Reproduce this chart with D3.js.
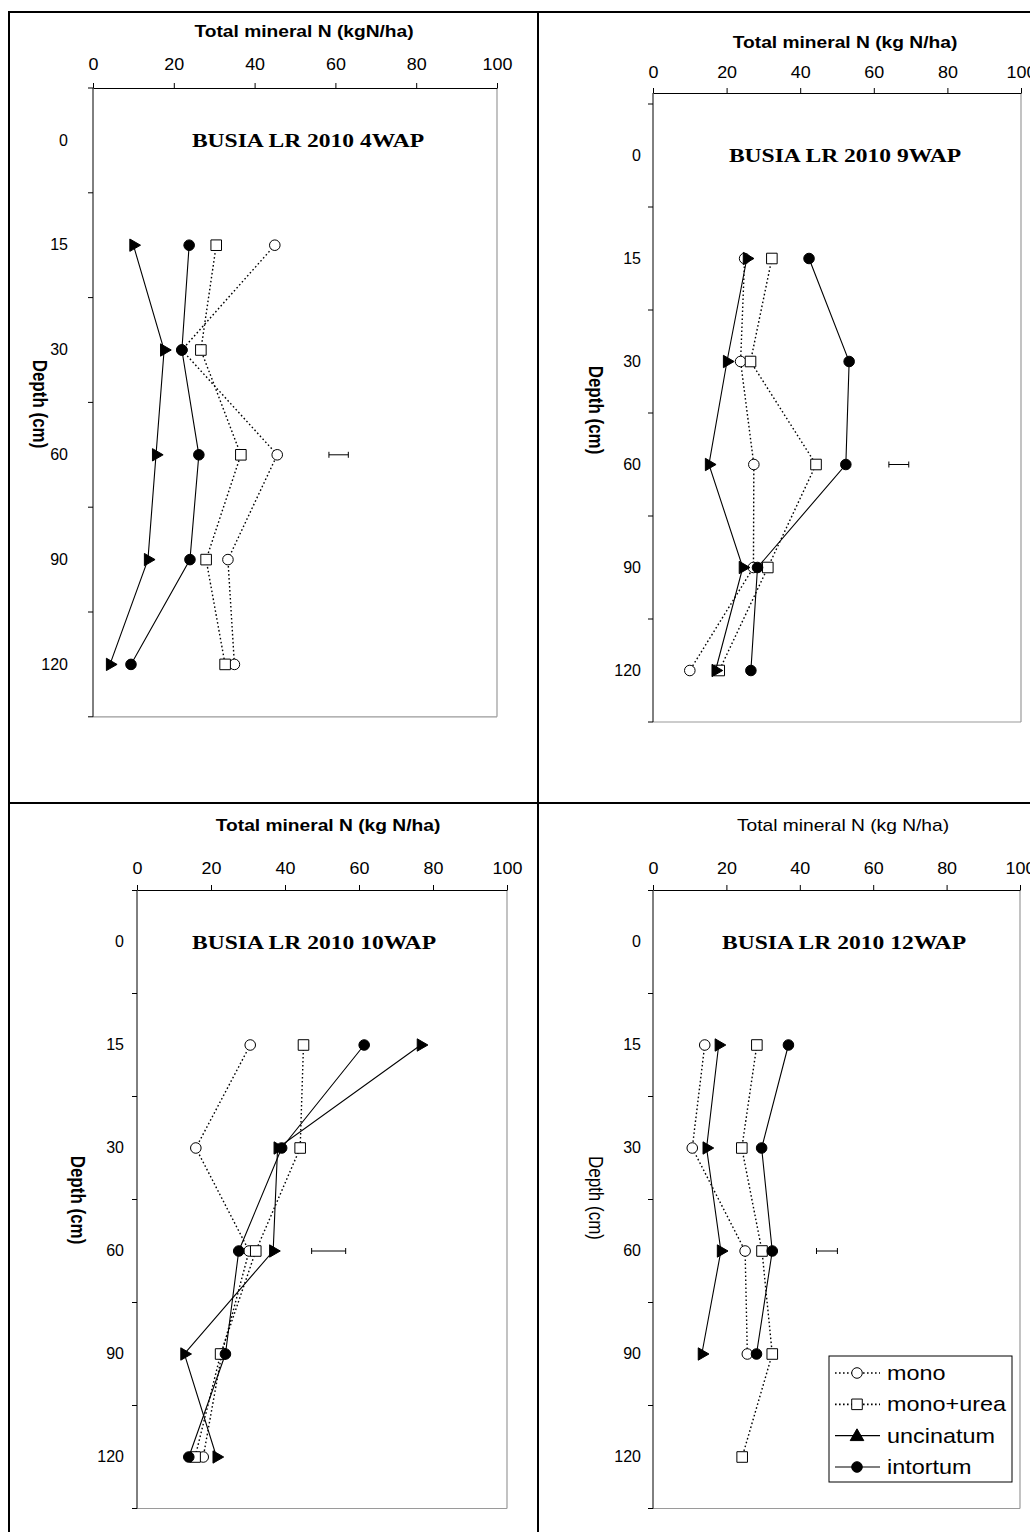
<!DOCTYPE html>
<html>
<head>
<meta charset="utf-8">
<script src="https://cdn.jsdelivr.net/npm/d3@7"></script>
<style>
  body { margin: 0; background: #fff; }
  svg { display: block; }
  text { font-family: Arial, "Liberation Sans", sans-serif; fill: #000; }
</style>
</head>
<body>
<svg id="chart" width="1030" height="1532"></svg>
<script>
// Depth categories (rows) and the depths that carry data
var depths = ['0', '15', '30', '60', '90', '120'];
var dataDepths = ['15', '30', '60', '90', '120'];
var seriesNames = ['mono', 'mono+urea', 'uncinatum', 'intortum'];
var xTicks = [0, 20, 40, 60, 80, 100];

// Total mineral N (kg N/ha) per depth, 15..120 cm
var mono4 = [45, 22, 45.6, 33.4, 35];
var monoUrea4 = [30.5, 26.7, 36.6, 28, 32.7];
var uncinatum4 = [10, 17.6, 15.6, 13.6, 4.2];
var intortum4 = [23.8, 22, 26.2, 24, 9.4];

var mono9 = [24.9, 23.8, 27.4, 27.3, 10];
var monoUrea9 = [32.3, 26.5, 44.3, 31.2, 18];
var uncinatum9 = [25.5, 20.1, 15.2, 24.4, 17];
var intortum9 = [42.4, 53.3, 52.4, 28.4, 26.6];

var mono10 = [30.6, 15.9, 30.3, 22.9, 17.9];
var monoUrea10 = [45, 44.1, 32.1, 22.6, 15.7];
var uncinatum10 = [76.7, 38, 36.8, 12.8, 21.5];
var intortum10 = [61.4, 39.1, 27.5, 23.9, 14];

var mono12 = [14.1, 10.7, 25.1, 25.7, null];
var monoUrea12 = [28.3, 24.2, 29.7, 32.5, 24.3];
var uncinatum12 = [17.9, 14.6, 18.5, 13.3, null];
var intortum12 = [36.9, 29.6, 32.5, 28.2, null];

// error bar drawn at 60 cm: centre and half width
var errCenter = [60.8, 66.8, 51.8, 47.4];
var errHalf = [2.4, 2.7, 4.6, 2.85];

var panelTitles = ['BUSIA LR 2010 4WAP', 'BUSIA LR 2010 9WAP', 'BUSIA LR 2010 10WAP', 'BUSIA LR 2010 12WAP'];
var xTitles = ['Total mineral N (kgN/ha)', 'Total mineral N (kg N/ha)', 'Total mineral N (kg N/ha)', 'Total mineral N (kg N/ha)'];

var panelData = [
    [mono4, monoUrea4, uncinatum4, intortum4],
    [mono9, monoUrea9, uncinatum9, intortum9],
    [mono10, monoUrea10, uncinatum10, intortum10],
    [mono12, monoUrea12, uncinatum12, intortum12]
];

// layout of each panel (pixels)
var layout = [
    { x0: 93, x1: 497, axisY: 88, top: 88, band: 104.8, titleX: 304, titleY: 37, tickPad: 13,
      labelGap: 25, depthX: 40, depthY: 404, headX: 308, headY: 147, bold: true },
    { x0: 653, x1: 1021, axisY: 93, top: 104, band: 103, titleX: 845, titleY: 48, tickPad: 10,
      labelGap: 12, depthX: 596, depthY: 410, headX: 845, headY: 162, bold: true },
    { x0: 137, x1: 507, axisY: 890, top: 890.5, band: 103, titleX: 328, titleY: 831, tickPad: 11,
      labelGap: 13, depthX: 78, depthY: 1200, headX: 314, headY: 949, bold: true },
    { x0: 653, x1: 1020, axisY: 890, top: 890.5, band: 103, titleX: 843, titleY: 831, tickPad: 11,
      labelGap: 12, depthX: 596, depthY: 1198, headX: 844, headY: 949, bold: false }
];

var svg = d3.select('#chart');

// sheet borders
var border = svg.append('g').attr('stroke', '#000').attr('stroke-width', 2);
border.append('line').attr('x1', 9).attr('x2', 1030).attr('y1', 12).attr('y2', 12);
border.append('line').attr('x1', 9).attr('x2', 9).attr('y1', 11).attr('y2', 1532);
border.append('line').attr('x1', 538).attr('x2', 538).attr('y1', 11).attr('y2', 1532);
border.append('line').attr('x1', 9).attr('x2', 1030).attr('y1', 803).attr('y2', 803);

// stretched text helper (the source picture is wider than tall)
function addText(parent, x, y, str, size, opts) {
    opts = opts || {};
    var sx = opts.sx || 1;
    var rot = opts.rotate ? ' rotate(' + opts.rotate + ')' : '';
    return parent.append('text')
        .attr('transform', 'translate(' + x + ',' + y + ') scale(' + sx + ',1)' + rot)
        .attr('text-anchor', opts.anchor || 'middle')
        .attr('font-size', size + 'px')
        .attr('font-weight', opts.weight || 'normal')
        .style('font-family', opts.family || null)
        .text(str);
}

var symCircle = d3.symbol().type(d3.symbolCircle).size(88);
var symSquare = d3.symbol().type(d3.symbolSquare).size(112);
var symTriangle = d3.symbol().type(d3.symbolTriangle).size(66);

var seriesStyle = [
    { dash: '1.6,2.4', marker: 'circle', fill: '#fff' },
    { dash: '1.6,2.4', marker: 'square', fill: '#fff' },
    { dash: null, marker: 'triangle', fill: '#000' },
    { dash: null, marker: 'dot', fill: '#000' }
];

function drawMarker(g, type, x, y, fill) {
    var path;
    if (type === 'square') path = symSquare();
    else if (type === 'triangle') path = symTriangle();
    else path = symCircle();
    var m = g.append('path')
        .attr('d', path)
        .attr('fill', fill)
        .attr('stroke', '#000')
        .attr('stroke-width', 1);
    if (type === 'triangle') {
        m.attr('transform', 'translate(' + x + ',' + y + ') rotate(90)');
    } else {
        m.attr('transform', 'translate(' + x + ',' + y + ')');
    }
    return m;
}

layout.forEach(function(L, pi) {
    var g = svg.append('g');
    var bottom = L.top + L.band * depths.length;

    var xScale = d3.scaleLinear().domain([0, 100]).range([L.x0, L.x1]);
    var yScale = d3.scaleBand().domain(depths).range([L.top, bottom]);
    var yMid = function(d) { return yScale(d) + yScale.bandwidth() / 2; };

    // plot area border (right and bottom in gray)
    g.append('line').attr('x1', L.x1).attr('x2', L.x1).attr('y1', L.axisY).attr('y2', bottom)
        .attr('stroke', '#9a9a9a').attr('stroke-width', 1.2);
    g.append('line').attr('x1', L.x0).attr('x2', L.x1).attr('y1', bottom).attr('y2', bottom)
        .attr('stroke', '#9a9a9a').attr('stroke-width', 1.2);

    // x axis on top
    var xAxis = g.append('g')
        .attr('transform', 'translate(0,' + L.axisY + ')')
        .call(d3.axisTop(xScale).tickValues(xTicks).tickSize(5).tickSizeOuter(0).tickPadding(L.tickPad));
    xAxis.select('.domain').attr('stroke', '#000');
    xAxis.selectAll('.tick line').attr('stroke', '#000');
    xAxis.selectAll('.tick text').attr('font-size', '16px').attr('font-family', 'Arial, "Liberation Sans", sans-serif')
        .attr('transform', 'scale(1.12,1)');

    // y axis: line, boundary ticks and centred labels
    g.append('line').attr('x1', L.x0).attr('x2', L.x0).attr('y1', L.axisY).attr('y2', bottom)
        .attr('stroke', '#000').attr('stroke-width', 1);
    var bounds = depths.map(function(d) { return yScale(d); }).concat([bottom]);
    g.selectAll('.ytick')
        .data(bounds)
        .enter()
        .append('line')
        .attr('x1', L.x0 - 5).attr('x2', L.x0)
        .attr('y1', function(d) { return d; })
        .attr('y2', function(d) { return d; })
        .attr('stroke', '#000');
    var yAxis = g.append('g')
        .attr('transform', 'translate(' + L.x0 + ',0)')
        .call(d3.axisLeft(yScale).tickSize(0).tickPadding(L.labelGap));
    yAxis.select('.domain').remove();
    yAxis.selectAll('.tick text').attr('font-size', '16px').attr('font-family', 'Arial, "Liberation Sans", sans-serif');

    // axis titles
    addText(g, L.titleX, L.titleY, xTitles[pi], 16, { sx: 1.2, weight: L.bold ? 'bold' : 'normal' });
    addText(g, L.depthX, L.depthY, 'Depth (cm)', 17, { weight: L.bold ? 'bold' : 'normal' })
        .attr('dy', '0.35em')
        .attr('transform', 'translate(' + L.depthX + ',' + L.depthY + ') scale(1.2,1) rotate(90)');

    // panel heading
    addText(g, L.headX, L.headY, panelTitles[pi], 19,
        { sx: 1.24, weight: 'bold', family: '"Liberation Serif", "Times New Roman", serif' });

    // error bar at 60 cm
    var ey = yMid('60');
    var ex0 = xScale(errCenter[pi] - errHalf[pi]);
    var ex1 = xScale(errCenter[pi] + errHalf[pi]);
    var eb = g.append('g').attr('stroke', '#000').attr('stroke-width', 1);
    eb.append('line').attr('x1', ex0).attr('x2', ex1).attr('y1', ey).attr('y2', ey);
    eb.append('line').attr('x1', ex0).attr('x2', ex0).attr('y1', ey - 3).attr('y2', ey + 3);
    eb.append('line').attr('x1', ex1).attr('x2', ex1).attr('y1', ey - 3).attr('y2', ey + 3);

    // series: line then markers, in order
    panelData[pi].forEach(function(vals, si) {
        var st = seriesStyle[si];
        var pts = dataDepths.map(function(d, i) { return { depth: d, v: vals[i] }; })
            .filter(function(p) { return p.v !== null; });
        var line = d3.line()
            .x(function(p) { return xScale(p.v); })
            .y(function(p) { return yMid(p.depth); });
        g.append('path')
            .datum(pts)
            .attr('d', line)
            .attr('fill', 'none')
            .attr('stroke', '#000')
            .attr('stroke-width', st.dash ? 1.4 : 1.1)
            .attr('stroke-dasharray', st.dash);
        pts.forEach(function(p) {
            drawMarker(g, st.marker, xScale(p.v), yMid(p.depth), st.fill);
        });
    });
});

// legend (bottom-right panel)
var leg = svg.append('g');
leg.append('rect').attr('x', 829).attr('y', 1356).attr('width', 183).attr('height', 126)
    .attr('fill', '#fff').attr('stroke', '#000').attr('stroke-width', 1);
var legY = d3.scalePoint().domain(seriesNames).range([1373, 1467]);
seriesNames.forEach(function(name, si) {
    var st = seriesStyle[si];
    var y = legY(name);
    leg.append('line').attr('x1', 835).attr('x2', 880).attr('y1', y).attr('y2', y)
        .attr('stroke', '#000').attr('stroke-width', st.dash ? 1.6 : 1.1)
        .attr('stroke-dasharray', st.dash);
    if (st.marker === 'triangle') {
        // legend keeps the upright triangle
        leg.append('path').attr('d', d3.symbol().type(d3.symbolTriangle).size(80)())
            .attr('transform', 'translate(857,' + (y + 1) + ')')
            .attr('fill', '#000').attr('stroke', '#000');
    } else {
        drawMarker(leg, st.marker, 857, y, st.fill);
    }
    addText(leg, 887, y + 7, name, 20, { sx: 1.17, anchor: 'start' });
});
</script>
</body>
</html>
